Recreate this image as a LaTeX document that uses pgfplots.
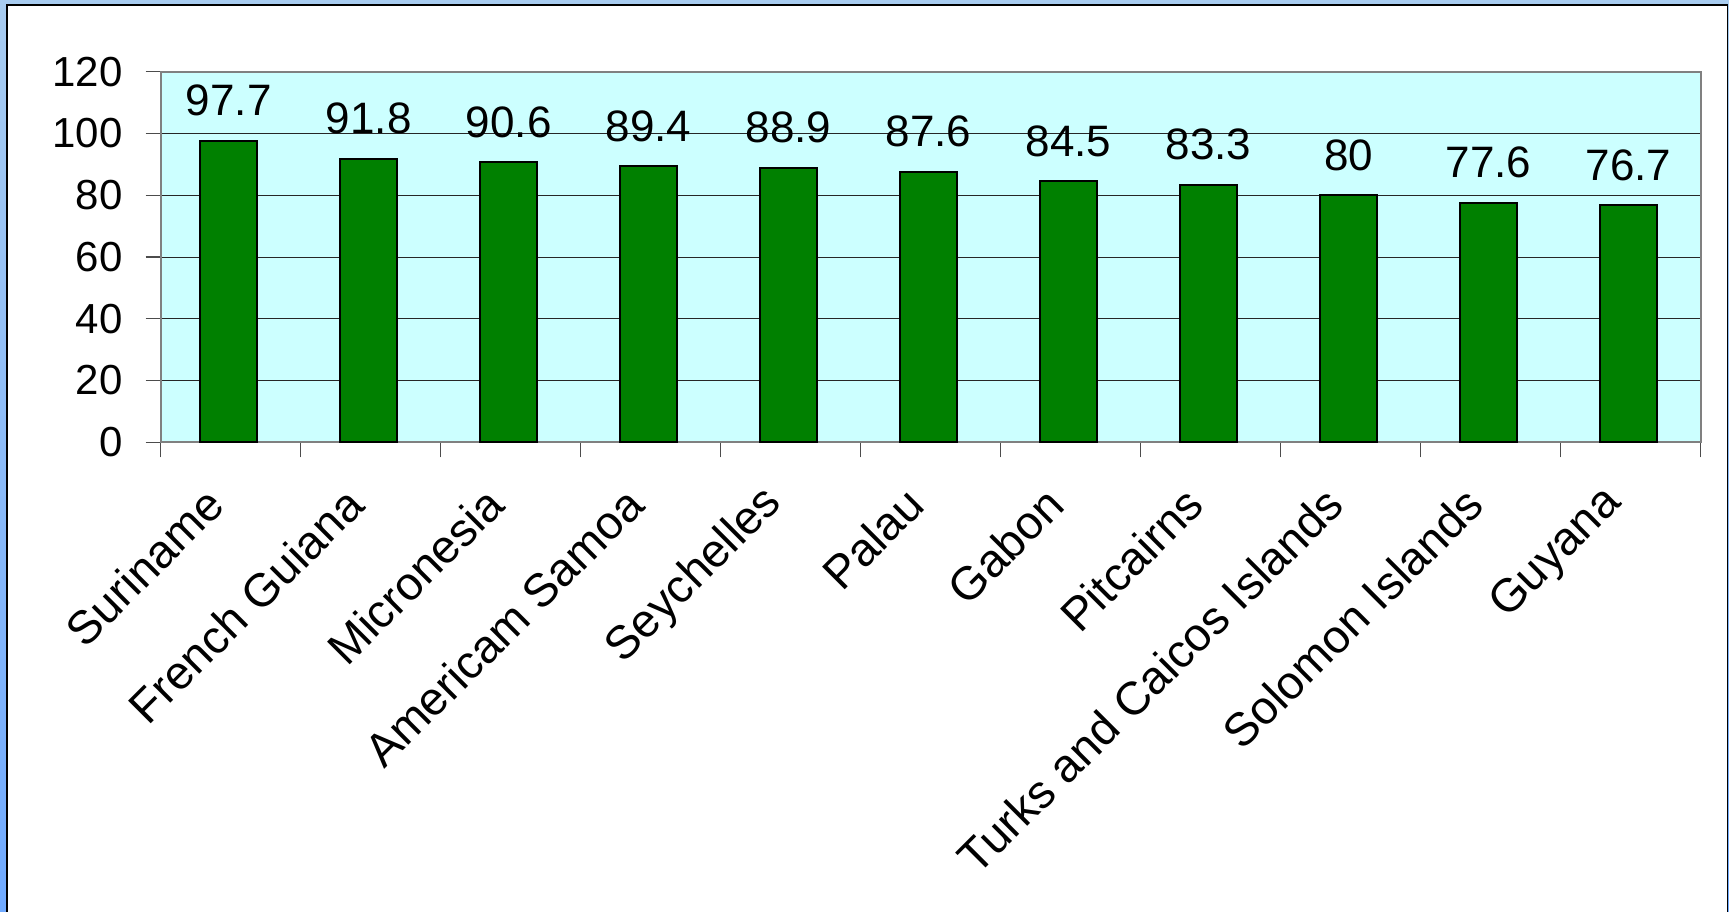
\documentclass[border=0pt]{standalone}
\usepackage{pgfplots}
\pgfplotsset{compat=1.18}
\usepackage{fontspec}
\setmainfont{Liberation Sans}
\definecolor{barg}{RGB}{0,128,0}
\definecolor{plotbg}{RGB}{204,255,255}
\definecolor{outtop}{RGB}{168,204,240}
\definecolor{outmid}{RGB}{228,226,245}
\definecolor{outbot}{RGB}{112,170,255}
\begin{document}
\begin{tikzpicture}
\path[use as bounding box] (0pt,0pt) rectangle (864.5pt,455.5pt);
\shade[top color=outtop, middle color=outmid, bottom color=outbot] (0pt,0pt) rectangle (864.5pt,455.5pt);
\fill[white] (3.5pt,-2pt) rectangle (863.7pt,453pt);
\draw[black, line width=0.6pt] (3.5pt,-2pt) -- (3.5pt,453pt) -- (863.7pt,453pt) -- (863.7pt,-2pt);
\begin{axis}[
  at={(80.35pt,234.35pt)}, anchor=south west,
  scale only axis, width=769.9pt, height=185.3pt,
  ybar, bar width=28.5pt, bar shift=-1pt,
  xmin=-0.5, xmax=10.5, ymin=0, ymax=120,
  ytick={0,20,...,120},
  xtick={-0.5,0.5,...,10.5},
  x tick label as interval,
  xticklabels={Suriname, French Guiana, Micronesia, Americam Samoa, Seychelles, Palau, Gabon, Pitcairns, Turks and Caicos Islands, Solomon Islands, Guyana},
  tick pos=left, tick align=outside, major tick length=7.5pt,
  tick style={black!70, line width=0.6pt},
  ymajorgrids, major grid style={black!85, line width=0.5pt},
  axis line style={gray, line width=1pt},
  axis background/.style={fill=plotbg},
  /pgf/number format/assume math mode=true,
  ticklabel style={font=\fontsize{21}{25}\selectfont},
  yticklabel style={xshift=-8pt},
  xticklabel style={font=\fontsize{23.3}{27}\selectfont, xshift=-5.5pt, yshift=-17pt, rotate=45, anchor=east},
  nodes near coords,
  every node near coord/.append style={font=\fontsize{22}{26}\selectfont, yshift=8.5pt, black},
]
\addplot[fill=barg, draw=black, line width=1pt] coordinates {
  (0,97.7) (1,91.8) (2,90.6) (3,89.4) (4,88.9) (5,87.6)
  (6,84.5) (7,83.3) (8,80) (9,77.6) (10,76.7)
};
\end{axis}
\end{tikzpicture}
\end{document}
